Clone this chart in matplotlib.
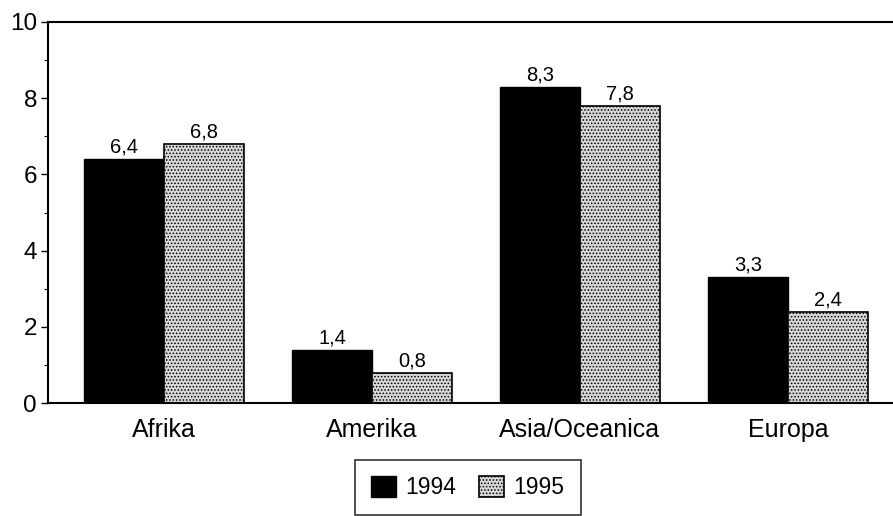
import matplotlib
matplotlib.use("Agg")
import matplotlib.pyplot as plt
import numpy as np
from matplotlib.ticker import MultipleLocator

categories = ["Afrika", "Amerika", "Asia/Oceanica", "Europa"]
series_names = ["1994", "1995"]
values_1994 = [6.4, 1.4, 8.3, 3.3]
values_1995 = [6.8, 0.8, 7.8, 2.4]
labels_1994 = ["6,4", "1,4", "8,3", "3,3"]
labels_1995 = ["6,8", "0,8", "7,8", "2,4"]

plt.rcParams['font.family'] = ['Liberation Sans', 'DejaVu Sans']
plt.rcParams['hatch.color'] = '#808080'
plt.rcParams['hatch.linewidth'] = 0.7

fig = plt.figure(figsize=(8.93, 5.16), dpi=100)
ax = fig.add_axes([48/893, 1-403/516, 1-48/893, (403-22)/516])

x = np.arange(len(categories))
w = 0.385
b1 = ax.bar(x - w/2, values_1994, w, color='black', edgecolor='black', linewidth=1, label=series_names[0])
b2 = ax.bar(x + w/2, values_1995, w, color='#d6d6d6', edgecolor='black', linewidth=1.2,
            hatch='.....', label=series_names[1])

for rect, lab in zip(b1, labels_1994):
    ax.text(rect.get_x() + rect.get_width()/2, rect.get_height() + 0.06, lab,
            ha='center', va='bottom', fontsize=14.5)
for rect, lab in zip(b2, labels_1995):
    ax.text(rect.get_x() + rect.get_width()/2, rect.get_height() + 0.06, lab,
            ha='center', va='bottom', fontsize=14.5)

ax.set_xlim(-0.558, 3.505)
ax.set_ylim(0, 10)
ax.yaxis.set_major_locator(MultipleLocator(2))
ax.yaxis.set_minor_locator(MultipleLocator(1))
ax.tick_params(axis='y', which='major', length=5, width=1, labelsize=17.5, direction='out', pad=3)
ax.tick_params(axis='y', which='minor', length=3, width=0.8, direction='out')
ax.set_xticks(x)
ax.set_xticklabels(categories, fontsize=18)
ax.tick_params(axis='x', length=0, pad=11)

for s in ['left', 'top', 'bottom']:
    ax.spines[s].set_linewidth(1.5)
ax.spines['right'].set_visible(False)

leg = fig.legend(handles=[b1, b2], labels=series_names, ncol=2,
                 loc='upper left', bbox_to_anchor=(355/893, 1-460/516),
                 fontsize=16.5, frameon=True, fancybox=False, edgecolor='black',
                 handlelength=1.1, handleheight=1.0, handletextpad=0.4,
                 columnspacing=1.0, borderpad=0.7, borderaxespad=0)
leg.get_frame().set_linewidth(1.2)

fig.savefig("out.png", dpi=100, facecolor='white')
